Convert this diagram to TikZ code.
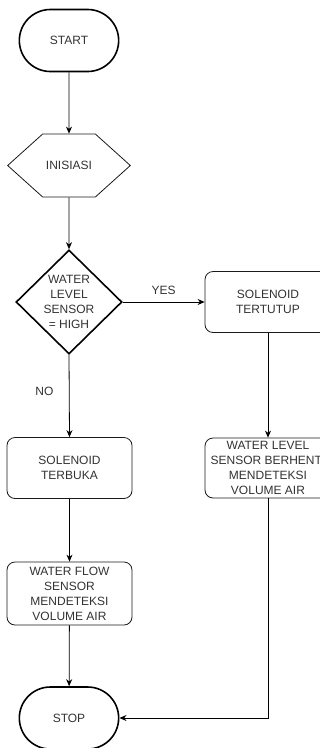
\documentclass[tikz,border=0pt]{standalone}
\usepackage{fontspec}
\setmainfont{Liberation Sans}
\usepackage{tikz}
\usetikzlibrary{positioning, arrows.meta, shapes.geometric, shapes.misc, shapes.symbols}
\definecolor{flowInk}{HTML}{333333}
\definecolor{flowLine}{HTML}{1A1A1A}

\tikzset{
  flowtext/.style={font=\fontsize{12}{15}\selectfont, text=flowInk, align=center},
  terminal/.style={flowtext, rounded rectangle, draw=black, line width=1.6pt,
    minimum width=106pt, minimum height=62pt},
  prepbox/.style={flowtext, signal, signal to=west and east, signal pointer angle=84,
    draw=flowLine, line width=0.8pt, minimum width=104pt, minimum height=63pt},
  decisionbox/.style={flowtext, diamond, draw=black, line width=1.6pt, inner sep=0pt,
    minimum width=106pt, minimum height=102pt},
  processbox/.style={flowtext, rectangle, rounded corners=8pt, draw=flowLine,
    line width=0.8pt, minimum height=61pt, inner sep=2pt},
  flowarrow/.style={-{Stealth[length=7pt,width=6pt]}, draw=black, line width=0.8pt}
}

\begin{document}
\begin{tikzpicture}[x=1pt, y=-1pt]
    \clip (0,0) rectangle (320,748);
    \fill[white] (0,0) rectangle (320,748);
    % left column
    \node[terminal] (start) at (69,40.5) {START};
    \node[prepbox] (init) at (69,165.5) {INISIASI};
    \node[decisionbox] (check) at (69,302) {WATER\\ LEVEL\\ SENSOR\\ = HIGH};
    \node[processbox, minimum width=125pt] (open) at (69.5,468) {SOLENOID\\ TERBUKA};
    \node[processbox, minimum width=125pt, minimum height=63pt] (flow) at (69.5,593.5)
      {WATER FLOW\\ SENSOR\\ MENDETEKSI\\ VOLUME AIR};
    \node[terminal] (stop) at (69,718) {STOP};
    % right column
    \node[processbox, minimum width=126pt] (close) at (268,302) {SOLENOID\\ TERTUTUP};
    \node[processbox, minimum width=126pt, minimum height=60pt] (halt) at (268,468)
      {WATER LEVEL\\ SENSOR BERHENTI\\ MENDETEKSI\\ VOLUME AIR};
    % connectors
    \draw[flowarrow] (start) -- (init);
    \draw[flowarrow] (init) -- (check);
    \draw[flowarrow] (check.east) -- (close.west)
      node[pos=0.5, above=4pt, flowtext] {YES};
    \draw[flowarrow] (check.south) -- (open.north)
      node[pos=0.45, left=12pt, flowtext] {NO};
    \draw[flowarrow] (open) -- (flow);
    \draw[flowarrow] (flow) -- (stop);
    \draw[flowarrow] (close) -- (halt);
    \draw[flowarrow] (halt.south) |- (stop.east);
  \end{tikzpicture}
\end{document}
